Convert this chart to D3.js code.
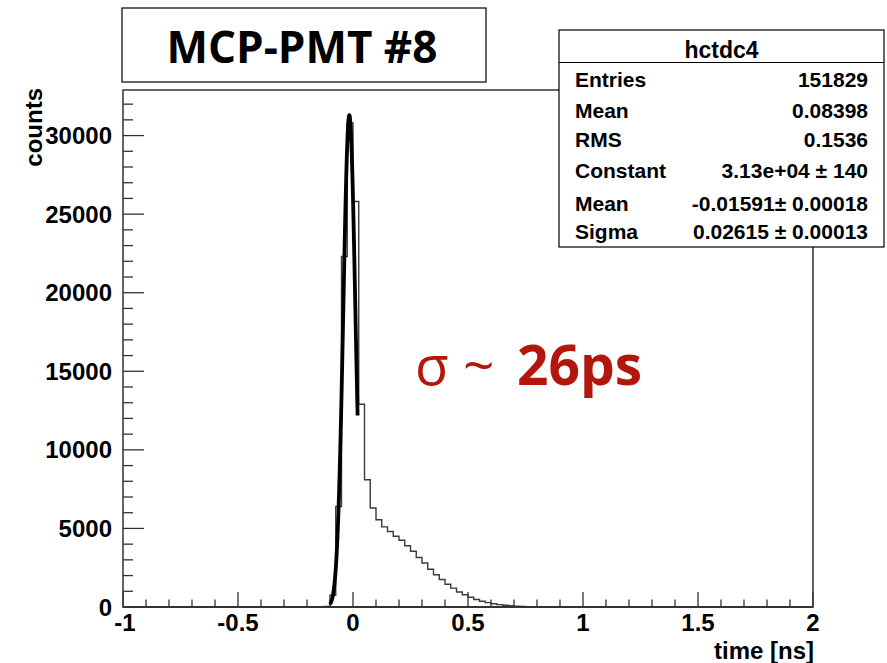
<!DOCTYPE html>
<html>
<head>
<meta charset="utf-8">
<script src="https://cdn.jsdelivr.net/npm/d3@7"></script>
<style>
  body { margin: 0; background: #fff; }
  svg { display: block; }
</style>
</head>
<body>
<svg id="chart"></svg>
<script>
const W = 887, H = 663;

// histogram: 0.025 ns bins, counts listed from the first non-empty bin
const binWidth = 0.025;
const firstBinLow = -0.125;
const counts = [30, 750, 6400, 22300, 30800, 25800, 12900, 8100, 6300, 5550,
  5100, 4800, 4500, 4250, 3900, 3550, 3150, 2800, 2400, 2050,
  1750, 1450, 1200, 950, 780, 620, 480, 370, 280, 210,
  150, 110, 75, 50, 30, 20, 12, 8, 5, 3, 2];

// gaussian fit (from the stats box) and its range
const fitConstant = 31300;
const fitMean = -0.01591;
const fitSigma = 0.02615;
const fitRange = [-0.1, 0.02];

const xTicks = [-1, -0.5, 0, 0.5, 1, 1.5, 2];
const yTicks = [0, 5000, 10000, 15000, 20000, 25000, 30000];

const statsTitle = "hctdc4";
const statsLabels = ["Entries", "Mean", "RMS", "Constant", "Mean", "Sigma"];
const statsValues = ["151829", "0.08398", "0.1536", "3.13e+04 \u00b1 140", "-0.01591\u00b1 0.00018", "0.02615 \u00b1 0.00013"];

const margin = { left: 123, right: 74, top: 90, bottom: 56 };

const svg = d3.select("#chart").attr("width", W).attr("height", H);

const x = d3.scaleLinear().domain([-1, 2]).range([margin.left, W - margin.right]);
const y = d3.scaleLinear().domain([0, 32900]).range([H - margin.bottom, margin.top]);

const axisColor = "#333";
const bold = "'Liberation Sans', Arial, Helvetica, sans-serif";

// minor ticks
const xMinor = d3.range(-1, 2.0001, 0.1).map(v => +v.toFixed(2));
const yMinor = d3.range(0, 32001, 1000);

const gAx = svg.append("g");

gAx.selectAll("line.xminor")
  .data(xMinor)
  .enter().append("line")
  .attr("x1", d => x(d)).attr("x2", d => x(d))
  .attr("y1", y(0)).attr("y2", d => y(0) - (xTicks.includes(d) ? 15 : 7.5))
  .attr("stroke", axisColor).attr("stroke-width", 1.3);

gAx.selectAll("line.yminor")
  .data(yMinor)
  .enter().append("line")
  .attr("y1", d => y(d)).attr("y2", d => y(d))
  .attr("x1", x(-1)).attr("x2", d => x(-1) + (d % 5000 === 0 ? 21 : 10))
  .attr("stroke", axisColor).attr("stroke-width", 1.3);

// histogram outline (steps)
const pts = [[x(-1), y(0)], [x(firstBinLow), y(0)]];
counts.forEach((c, i) => {
  const lo = firstBinLow + i * binWidth;
  pts.push([x(lo), y(c)]);
  pts.push([x(lo + binWidth), y(c)]);
});
pts.push([x(firstBinLow + counts.length * binWidth), y(0)]);
pts.push([x(2), y(0)]);

svg.append("path")
  .attr("d", d3.line()(pts))
  .attr("fill", "none")
  .attr("stroke", "#3a3a3a")
  .attr("stroke-width", 1.4);

// fit curve
const fitPts = d3.range(0, 101).map(i => {
  const t = fitRange[0] + (fitRange[1] - fitRange[0]) * i / 100;
  return [t, fitConstant * Math.exp(-0.5 * Math.pow((t - fitMean) / fitSigma, 2))];
});
svg.append("path")
  .attr("d", d3.line().x(d => x(d[0])).y(d => y(d[1]))(fitPts))
  .attr("fill", "none")
  .attr("stroke", "#000")
  .attr("stroke-width", 3.8)
  .attr("stroke-linejoin", "round");

// frame
svg.append("rect")
  .attr("x", x(-1)).attr("y", margin.top)
  .attr("width", x(2) - x(-1)).attr("height", y(0) - margin.top)
  .attr("fill", "none").attr("stroke", axisColor).attr("stroke-width", 1.5);
svg.append("line")
  .attr("x1", x(-1)).attr("x2", x(2)).attr("y1", y(0)).attr("y2", y(0))
  .attr("stroke", axisColor).attr("stroke-width", 2);

// tick labels
svg.selectAll("text.xl")
  .data(xTicks)
  .enter().append("text")
  .attr("x", d => x(d) + (d === -1 ? 2 : 0))
  .attr("y", 631)
  .attr("text-anchor", "middle")
  .style("font-family", bold).style("font-weight", "bold").style("font-size", "24px")
  .text(d => d);

svg.selectAll("text.yl")
  .data(yTicks)
  .enter().append("text")
  .attr("x", 112)
  .attr("y", d => y(d) + 8.5)
  .attr("text-anchor", "end")
  .style("font-family", bold).style("font-weight", "bold").style("font-size", "24px")
  .text(d => d);

svg.append("text")
  .attr("x", x(2) + 1).attr("y", 659)
  .attr("text-anchor", "end")
  .style("font-family", bold).style("font-weight", "bold").style("font-size", "24px")
  .text("time [ns]");

svg.append("text")
  .attr("transform", `translate(42, ${margin.top - 2}) rotate(-90)`)
  .attr("text-anchor", "end")
  .style("font-family", bold).style("font-weight", "bold").style("font-size", "24px")
  .text("counts");

// title box
svg.append("rect")
  .attr("x", 122).attr("y", 8).attr("width", 364).attr("height", 74)
  .attr("fill", "#fff").attr("stroke", "#000").attr("stroke-width", 1.2);
svg.append("text")
  .attr("x", 302).attr("y", 63)
  .attr("text-anchor", "middle")
  .style("font-family", "'Open Sans', sans-serif").style("font-weight", "bold").style("font-size", "44px")
  .text("MCP-PMT #8");

// stats box
const sb = { x: 559, y: 30, w: 325, h: 217 };
svg.append("rect")
  .attr("x", sb.x).attr("y", sb.y).attr("width", sb.w).attr("height", sb.h)
  .attr("fill", "#fff").attr("stroke", "#000").attr("stroke-width", 1.2);
svg.append("line")
  .attr("x1", sb.x).attr("x2", sb.x + sb.w).attr("y1", 62.5).attr("y2", 62.5)
  .attr("stroke", "#000").attr("stroke-width", 1.2);
svg.append("text")
  .attr("x", sb.x + sb.w / 2).attr("y", 58)
  .attr("text-anchor", "middle")
  .style("font-family", bold).style("font-weight", "bold").style("font-size", "23px")
  .text(statsTitle);

const rowBase = [86.5, 117.5, 146.5, 178, 211, 239];
svg.selectAll("text.sl")
  .data(statsLabels)
  .enter().append("text")
  .attr("x", 575).attr("y", (d, i) => rowBase[i])
  .style("font-family", bold).style("font-weight", "bold").style("font-size", "21px")
  .text(d => d);
svg.selectAll("text.sv")
  .data(statsValues)
  .enter().append("text")
  .attr("x", 868).attr("y", (d, i) => rowBase[i])
  .attr("text-anchor", "end")
  .style("font-family", bold).style("font-weight", "bold").style("font-size", "21px")
  .text(d => d);

// annotation
const ann = svg.append("text")
  .attr("x", 415).attr("y", 385)
  .style("font-family", "'Open Sans', sans-serif").style("font-size", "55px")
  .attr("fill", "#b3160c");
ann.append("tspan").text("\u03c3 ~ ");
ann.append("tspan").attr("x", 517).style("font-weight", "bold").text("26ps");
</script>
</body>
</html>
